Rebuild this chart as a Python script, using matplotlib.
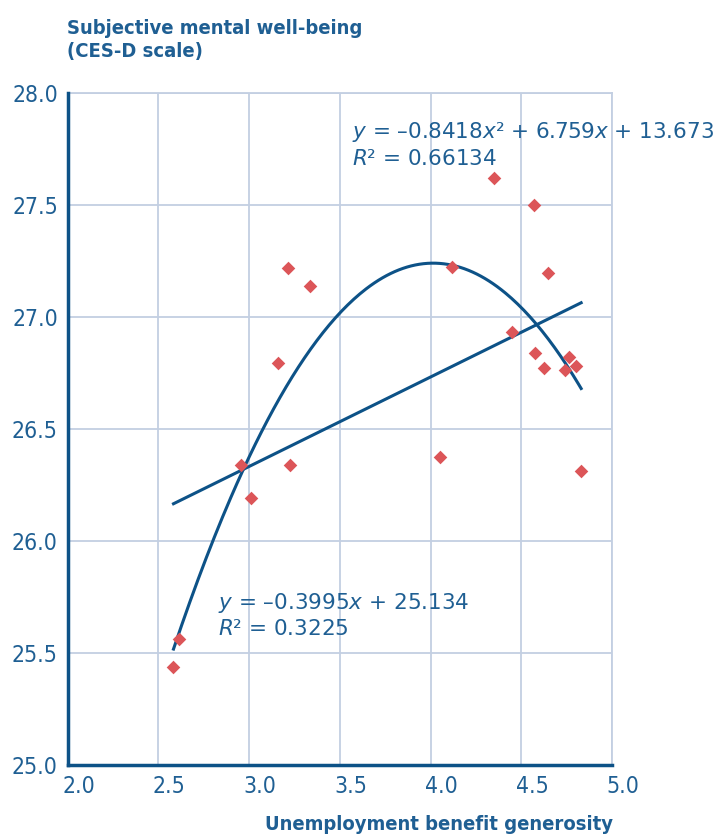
"""Unemployment benefit generosity vs subjective mental well-being"""

import matplotlib.pyplot as plt
import matplotlib.transforms as mtransforms
import numpy as np

generosity = [4.348, 4.571, 3.216, 3.335, 4.119, 4.648, 4.447, 4.575, 4.625, 4.764,
              4.740, 4.804, 3.161, 2.956, 3.225, 4.053, 4.830, 3.011, 2.612, 2.584]
wellbeing = [27.62, 27.50, 27.22, 27.14, 27.225, 27.195, 26.934, 26.838, 26.774, 26.820,
             26.763, 26.781, 26.793, 26.339, 26.339, 26.376, 26.314, 26.19, 25.561, 25.439]

# trend lines as drawn in the chart
lin_coef = [0.3995, 25.134]
quad_coef = [-0.8418, 6.759, 13.673]
lin_label = '$y$ = \u20130.3995$x$ + 25.134\n$R$\u00b2 = 0.3225'
quad_label = '$y$ = \u20130.8418$x$\u00b2 + 6.759$x$ + 13.673\n$R$\u00b2 = 0.66134'

x_ticks = [2.0, 2.5, 3.0, 3.5, 4.0, 4.5, 5.0]
y_ticks = [25.0, 25.5, 26.0, 26.5, 27.0, 27.5, 28.0]

navy = '#0d5287'
txt = '#1f5f93'
grid_c = '#c3cfe2'
red = '#dc5558'
cond = dict(family='DejaVu Sans', stretch='condensed')

plt.rcParams['mathtext.fontset'] = 'dejavusans'

fig = plt.figure(figsize=(7.2, 8.36), dpi=100)
fig.set_facecolor('w')
ax = fig.add_axes([67.5 / 720, 1 - 765 / 836, (612 - 67.5) / 720, (765 - 93) / 836])

ax.set_xlim(2.0, 5.0)
ax.set_ylim(25.0, 28.0)
ax.set_xticks(x_ticks)
ax.set_yticks(y_ticks)
ax.set_xticklabels(['%.1f' % v for v in x_ticks], **cond)
ax.set_yticklabels(['%.1f' % v for v in y_ticks], **cond)
ax.grid(True, color=grid_c, lw=1.3, zorder=0)
ax.set_axisbelow(True)

for s in ['top', 'right']:
    ax.spines[s].set_visible(False)
for s in ['left', 'bottom']:
    ax.spines[s].set_color(navy)
    ax.spines[s].set_linewidth(2.5)
ax.plot([2.0, 5.0], [28.0, 28.0], color=grid_c, lw=1.3, zorder=0, clip_on=False)
ax.plot([5.0, 5.0], [25.0, 28.0], color=grid_c, lw=1.3, zorder=0, clip_on=False)

ax.tick_params(length=0, labelsize=16.5, labelcolor=txt, pad=7)
off = mtransforms.ScaledTranslation(11 / 100, 0, fig.dpi_scale_trans)
for lab in ax.get_xticklabels():
    lab.set_transform(lab.get_transform() + off)

gx = np.array(generosity)
xs = np.linspace(gx.min(), gx.max(), 200)
ax.plot(xs, np.polyval(lin_coef, xs), color=navy, lw=2.2, zorder=3)
ax.plot(xs, np.polyval(quad_coef, xs), color=navy, lw=2.2, zorder=3)
ax.scatter(generosity, wellbeing, marker='D', s=48, color=red, lw=0, zorder=4)

ax.text(2.83, 25.67, lin_label, fontsize=15.5, color=txt, family='DejaVu Sans',
        linespacing=1.3, va='center', ha='left', zorder=5)
ax.text(3.565, 27.77, quad_label, fontsize=15.5, color=txt, family='DejaVu Sans',
        linespacing=1.3, va='center', ha='left', zorder=5, clip_on=False)

fig.text(67 / 720, 1 - 40 / 836, 'Subjective mental well-being\n(CES-D scale)',
         fontsize=14.5, fontweight='bold', color=txt, ha='left', va='center',
         linespacing=1.2, **cond)
fig.text(613 / 720, 1 - 824 / 836, 'Unemployment benefit generosity',
         fontsize=14.5, fontweight='bold', color=txt, ha='right', va='center', **cond)

fig.savefig('out.png', dpi=100, facecolor='w')
